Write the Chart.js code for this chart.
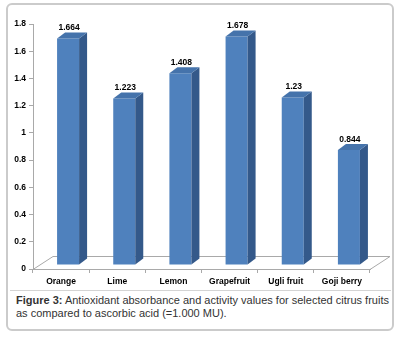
<!DOCTYPE html>
<html>
<head>
<meta charset="utf-8">
<script src="https://cdn.jsdelivr.net/npm/chart.js@4.4.1/dist/chart.umd.min.js"></script>
<style>
  html, body { margin: 0; padding: 0; background: #fff; }
  body { width: 398px; height: 338px; position: relative; overflow: hidden; }
  .frame {
    position: absolute; left: 6px; top: 3px; width: 388px; height: 328px;
    box-sizing: border-box; border: 2px solid #cbcbcb; border-radius: 6px;
  }
  .sep { position: absolute; left: 10px; top: 290px; width: 381px; height: 1px; background: #d4d4d4; }
  .caption {
    position: absolute; left: 16px; top: 294px; width: 378px;
    font: 11px "Liberation Sans", Arial, sans-serif; line-height: 12.5px; color: #333;
  }
  .caption b { font-weight: bold; }
  #chart { position: absolute; left: 0; top: 0; }
</style>
</head>
<body>
<div class="frame"></div>
<div class="sep"></div>
<canvas id="chart" width="398" height="291"></canvas>
<div class="caption"><b>Figure 3:</b> Antioxidant absorbance and activity values for selected citrus fruits as compared to ascorbic acid (=1.000 MU).</div>

<script>
// ========== ANTIOXIDANT VALUES — 3D-look columns ==========
var fruits = ['Orange', 'Lime', 'Lemon', 'Grapefruit', 'Ugli fruit', 'Goji berry'];
var values = [1.664, 1.223, 1.408, 1.678, 1.23, 0.844];
var valueLabels = ['1.664', '1.223', '1.408', '1.678', '1.23', '0.844'];
var yTicks = [0, 0.2, 0.4, 0.6, 0.8, 1, 1.2, 1.4, 1.6, 1.8];

var FRONT = '#4f81bd', SIDE = '#34598a', TOP = '#4573ab';
var BAR_SHIFT_X = 7, BAR_SHIFT_Y = -4;   // bars sit a bit back on the floor
var DEPTH_X = 8, DEPTH_Y = -6;           // prism depth
var FLOOR_X = 20, FLOOR_Y = -13;         // floor depth
var tickFont = { family: '"Liberation Sans", Arial, sans-serif', size: 8.5, weight: 'bold' };

var prismPlugin = {
    id: 'prism',
    beforeDatasetsDraw: function(chart) {
        var ctx = chart.ctx, a = chart.chartArea;
        ctx.save();
        ctx.strokeStyle = '#a9a9a9';
        ctx.lineWidth = 1;
        ctx.beginPath();
        ctx.moveTo(a.left, a.bottom + 0.5);
        ctx.lineTo(a.left + FLOOR_X, a.bottom + FLOOR_Y + 0.5);
        ctx.lineTo(a.right + FLOOR_X, a.bottom + FLOOR_Y + 0.5);
        ctx.lineTo(a.right, a.bottom + 0.5);
        ctx.stroke();
        ctx.restore();
    },
    beforeDatasetDraw: function(chart) {
        chart.ctx.save();
        chart.ctx.translate(BAR_SHIFT_X, BAR_SHIFT_Y);
    },
    afterDatasetDraw: function(chart, args) {
        var ctx = chart.ctx;
        var meta = args.meta;
        meta.data.forEach(function(bar, i) {
            var left = bar.x - bar.width / 2, right = bar.x + bar.width / 2;
            var top = bar.y, bottom = bar.base;
            // side face
            ctx.fillStyle = SIDE;
            ctx.beginPath();
            ctx.moveTo(right, top);
            ctx.lineTo(right + DEPTH_X, top + DEPTH_Y);
            ctx.lineTo(right + DEPTH_X, bottom + DEPTH_Y);
            ctx.lineTo(right, bottom);
            ctx.closePath();
            ctx.fill();
            // top face
            ctx.fillStyle = TOP;
            ctx.beginPath();
            ctx.moveTo(left, top);
            ctx.lineTo(left + DEPTH_X, top + DEPTH_Y);
            ctx.lineTo(right + DEPTH_X, top + DEPTH_Y);
            ctx.lineTo(right, top);
            ctx.closePath();
            ctx.fill();
            // value label
            ctx.fillStyle = '#000';
            ctx.font = 'bold 8.5px "Liberation Sans", Arial, sans-serif';
            ctx.textAlign = 'center';
            ctx.textBaseline = 'bottom';
            ctx.fillText(valueLabels[i], bar.x + 1, top + DEPTH_Y - 0.5);
        });
        ctx.restore();
    }
};

new Chart(document.getElementById('chart').getContext('2d'), {
    type: 'bar',
    data: {
        labels: fruits,
        datasets: [{
            data: values,
            backgroundColor: FRONT,
            borderWidth: 0,
            barPercentage: 0.392,
            categoryPercentage: 1
        }]
    },
    options: {
        responsive: false,
        animation: false,
        layout: { padding: { left: 0, right: 28, top: 24, bottom: 0 } },
        plugins: { legend: { display: false }, tooltip: { enabled: false } },
        scales: {
            x: {
                afterFit: function(s) { s.height = 22; },
                grid: { drawOnChartArea: false, drawTicks: true, tickLength: 4, color: '#a9a9a9' },
                border: { color: '#a9a9a9' },
                ticks: { color: '#000', font: tickFont, padding: 4, maxRotation: 0, autoSkip: false }
            },
            y: {
                min: 0, max: 1.8,
                afterFit: function(s) { s.width = 33; },
                afterBuildTicks: function(s) { s.ticks = yTicks.map(function(v) { return { value: v }; }); },
                grid: { drawOnChartArea: false, drawTicks: true, tickLength: 4, color: '#a9a9a9' },
                border: { color: '#a9a9a9' },
                ticks: {
                    color: '#000', font: tickFont, padding: 3,
                    callback: function(v) { return String(Math.round(v * 10) / 10); }
                }
            }
        }
    },
    plugins: [prismPlugin]
});
</script>
</body>
</html>
